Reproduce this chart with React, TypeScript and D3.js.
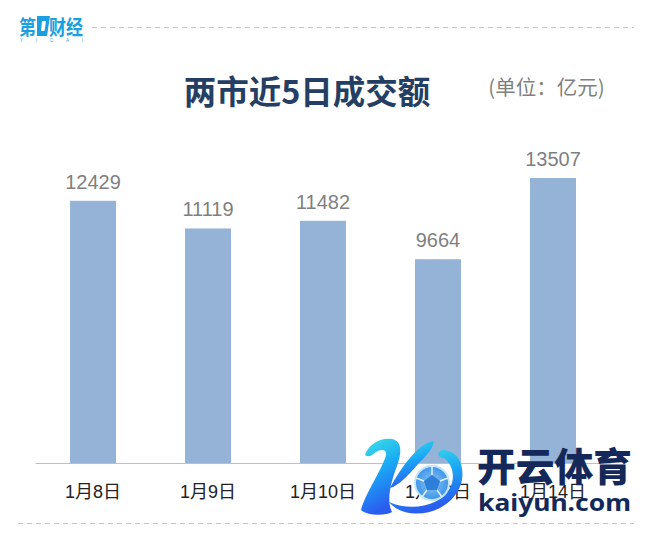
import React from "react";
import * as d3 from "d3";

const categories = ["1月8日", "1月9日", "1月10日", "1月13日", "1月14日"];
const turnover = [12429, 11119, 11482, 9664, 13507];
const W = 646, H = 537;
const SANS = "'Liberation Sans','Noto Sans CJK SC',sans-serif";
const CJK = "'Noto Sans CJK SC'";

export default function App() {
  const x = d3.scaleBand<string>().domain(categories).range([35.5, 610.5]).paddingInner(0.6).paddingOuter(0.3);
  const y = d3.scaleLinear().domain([0, 13507]).range([463.5, 178]);
  return (
    <svg width={W} height={H} viewBox={`0 0 ${W} ${H}`} style={{ position: "absolute", left: 0, top: 0, background: "#fff" }}>
      <line x1={92} x2={634} y1={27.5} y2={27.5} stroke="#c4c4c4" strokeDasharray="5 4" />
      <line x1={18} x2={634} y1={523.5} y2={523.5} stroke="#c4c4c4" strokeDasharray="5 4" />
      {/* brand mark */}
      <text x={19} y={35} fontFamily={CJK} fontWeight={700} fontSize={20} fill="#1a9fe0" textLength={17} lengthAdjust="spacingAndGlyphs">第</text>
      <path d="M37 16 H50 L47 36 H37 Z M41 31 H44.5 L46 21 H42 Z" fill="#1a9fe0" fillRule="evenodd" />
      <text x={49} y={35} fontFamily={CJK} fontWeight={700} fontSize={20} fill="#1a9fe0" textLength={34} lengthAdjust="spacingAndGlyphs">财经</text>
      <text x={20} y={42} fontFamily={SANS} fontSize={4.5} fill="#1a9fe0" textLength={63}>Y I C A I</text>
      {/* title */}
      <text x={307} y={104} textAnchor="middle" fontFamily={CJK} fontWeight={700} fontSize={32.5} fill="#243f63">两市近5日成交额</text>
      <text x={546.5} y={95} textAnchor="middle" fontFamily={CJK} fontSize={20.5} fill="#7f7f7f">(单位：亿元)</text>
      {/* bars */}
      {categories.map((c, i) => (
        <g key={c}>
          <rect x={x(c)!} y={y(turnover[i])} width={x.bandwidth()} height={y(0) - y(turnover[i])} fill="#95b3d7" />
          <text x={x(c)! + x.bandwidth() / 2} y={y(turnover[i]) - 12} textAnchor="middle" fontFamily={SANS} fontSize={20} fill="#7f7f7f">{turnover[i]}</text>
          <text x={x(c)! + x.bandwidth() / 2} y={498} textAnchor="middle" fontFamily={SANS} fontSize={18} fill="#222">{c}</text>
        </g>
      ))}
      <line x1={35.5} x2={610.5} y1={463.5} y2={463.5} stroke="#bfbfbf" />
      {/* watermark */}
      <defs>
        <linearGradient id="kg" x1="0" y1="0" x2="0.3" y2="1">
          <stop offset="0" stopColor="#3fe6e6" />
          <stop offset="0.5" stopColor="#1aa8f5" />
          <stop offset="1" stopColor="#2a5cf0" />
        </linearGradient>
        <radialGradient id="ball">
          <stop offset="0" stopColor="#8cc8f5" />
          <stop offset="1" stopColor="#3d93e8" />
        </radialGradient>
      </defs>
      <path d="M365 455 C368 445 380 437 392 439 C402 441 402 452 397 466 C391 482 386 500 392 512 C386 516 368 516 361 510 C366 492 382 470 386 455 C387 449 381 449 376 452 C372 455 369 458 365 455 Z" fill="url(#kg)" />
      <path d="M390 488 C402 466 418 444 433 441 C435 445 430 452 418 464 C408 476 398 486 390 488 Z" fill="url(#kg)" />
      <path d="M389 502 C405 522 450 516 461 484 C466 466 458 450 442 450 C436 452 438 458 444 458 C452 464 456 476 450 488 C440 506 412 512 389 502 Z" fill="url(#kg)" />
      <circle cx={432} cy={483} r={17} fill="url(#ball)" stroke="#bfe6fb" strokeWidth={2} />
      <path d="M432 475 L440 481 L437 490 L427 490 L424 481 Z" fill="#2d7fd8" />
      <path d="M432 475 L432 466 M440 481 L448 478 M437 490 L442 497 M427 490 L422 497 M424 481 L416 478" stroke="#e3f4ff" strokeWidth={1.5} />
      <text x={477} y={481} fontFamily={CJK} fontWeight={900} fontSize={39} fill="#14295a" textLength={155} lengthAdjust="spacingAndGlyphs">开云体育</text>
      <text x={478} y={511} fontFamily="'Noto Sans',sans-serif" fontWeight={700} fontSize={24} fill="#14295a" textLength={153} lengthAdjust="spacingAndGlyphs">kaiyun.com</text>
    </svg>
  );
}
